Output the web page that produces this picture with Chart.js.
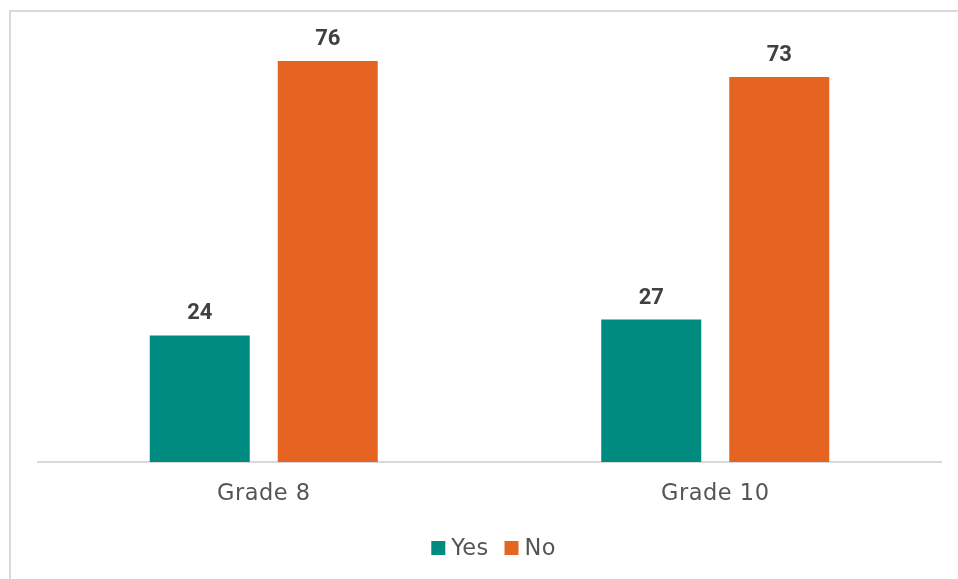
<!DOCTYPE html>
<html>
<head>
<meta charset="utf-8">
<title>Grade 8 and Grade 10: Yes / No</title>
<script src="https://cdn.jsdelivr.net/npm/chart.js@4.4.1/dist/chart.umd.min.js"></script>
<style>
  html, body { margin: 0; padding: 0; background: #ffffff; overflow: hidden; }
  #c { display: block; }
</style>
</head>
<body>
<canvas id="c" width="958" height="579"></canvas>
<script>
// Categories and series values
const categories = ['Grade 8', 'Grade 10'];
const yesValues = [24, 27];
const noValues = [76, 73];
const seriesNames = ['Yes', 'No'];
const seriesColors = ['#008B80', '#E66421'];

const tickFont = { family: '"DejaVu Sans", sans-serif', size: 22.5 };
const tickColor = '#555555';
const frameColor = '#d9d9d9';

// Outer frame lines (top and left edges) plus letter spacing for axis text
const frame = {
  id: 'frame',
  beforeDraw(chart) {
    const ctx = chart.ctx;
    ctx.save();
    ctx.fillStyle = frameColor;
    ctx.fillRect(9, 10, chart.width - 9, 2);
    ctx.fillRect(9, 10, 2, chart.height - 10);
    ctx.restore();
    ctx.letterSpacing = '0.5px';
  }
};

// Value labels above each bar
const valueLabels = {
  id: 'valueLabels',
  afterDatasetsDraw(chart) {
    const ctx = chart.ctx;
    ctx.save();
    ctx.letterSpacing = '0px';
    ctx.font = 'bold 22px Roboto, sans-serif';
    ctx.fillStyle = '#404040';
    ctx.textAlign = 'center';
    ctx.textBaseline = 'alphabetic';
    chart.data.datasets.forEach((ds, i) => {
      chart.getDatasetMeta(i).data.forEach((bar, j) => {
        ctx.fillText(String(ds.data[j]), bar.x, bar.y - 16);
      });
    });
    ctx.restore();
  }
};

// Legend row under the category labels
const bottomLegend = {
  id: 'bottomLegend',
  afterDraw(chart) {
    const ctx = chart.ctx;
    ctx.save();
    ctx.letterSpacing = '0.3px';
    ctx.font = '22.5px "DejaVu Sans", sans-serif';
    ctx.textBaseline = 'middle';
    ctx.textAlign = 'left';
    const box = 14, gapText = 6, gapItem = 16;
    const items = chart.data.datasets.map(ds => ({
      label: ds.label, color: ds.backgroundColor, w: ctx.measureText(ds.label).width
    }));
    let total = 0;
    items.forEach((it, i) => { total += box + gapText + it.w + (i ? gapItem : 0); });
    const cx = (chart.chartArea.left + chart.chartArea.right) / 2 + 4;
    const cy = 548;
    let x = cx - total / 2;
    items.forEach((it, i) => {
      if (i) x += gapItem;
      ctx.fillStyle = it.color;
      ctx.fillRect(x, cy - box / 2, box, box);
      x += box + gapText;
      ctx.fillStyle = tickColor;
      ctx.fillText(it.label, x, cy + 1);
      x += it.w;
    });
    ctx.restore();
    ctx.letterSpacing = '0px';
  }
};

new Chart(document.getElementById('c'), {
  type: 'bar',
  data: {
    labels: categories,
    datasets: [
      { label: seriesNames[0], data: yesValues, backgroundColor: seriesColors[0] },
      { label: seriesNames[1], data: noValues, backgroundColor: seriesColors[1] }
    ]
  },
  options: {
    responsive: false,
    animation: false,
    devicePixelRatio: 1,
    layout: { padding: { left: 38, right: 17, top: 40, bottom: 0 } },
    datasets: { bar: { categoryPercentage: 0.567, barPercentage: 0.78125 } },
    plugins: { legend: { display: false }, tooltip: { enabled: false } },
    scales: {
      x: {
        grid: { display: false },
        border: { display: true, color: frameColor, width: 2 },
        ticks: { font: tickFont, color: tickColor, padding: 11 },
        afterFit(scale) { scale.height = 117; }
      },
      y: {
        display: false,
        min: 0,
        max: 80
      }
    }
  },
  plugins: [frame, valueLabels, bottomLegend]
});
</script>
</body>
</html>
